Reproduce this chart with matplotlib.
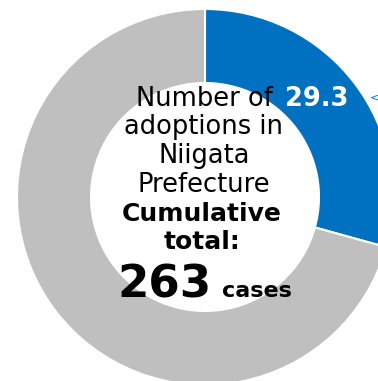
import matplotlib.pyplot as plt

# 採用件数の割合（新潟県）
labels = ["Niigata", "Other"]
shares = [29.3, 70.7]
colors = ["#0070C0", "#BFBFBF"]
total_cases = 263
share_label = "29.3"

center_lines = ["Number of", "adoptions in", "Niigata", "Prefecture"]
bold_lines = ["Cumulative", "total:"]

W, H = 378, 381

fig = plt.figure(figsize=(W / 100, H / 100), dpi=100)
ax = fig.add_axes([0, 0, 1, 1])

# donut
ax.pie(shares, colors=colors, startangle=90, counterclock=False,
       center=(205, H - 197), radius=188,
       wedgeprops=dict(width=74, edgecolor="white", linewidth=1.5))

ax.set_xlim(0, W)
ax.set_ylim(0, H)
ax.set_aspect("equal")
ax.axis("off")

# 中央のテキスト
base = [106, 134, 163, 192]
for txt, y in zip(center_lines, base):
    ax.text(204, H - y, txt, ha="center", va="baseline",
            fontsize=18.5, color="black")
for txt, y in zip(bold_lines, [221, 249]):
    ax.text(202, H - y, txt, ha="center", va="baseline",
            fontsize=18, fontweight="bold", color="black")

ax.text(117, H - 297, str(total_cases), ha="left", va="baseline",
        fontsize=32.5, fontweight="bold", color="black")
ax.text(222, H - 297, "cases", ha="left", va="baseline",
        fontsize=16, fontweight="bold", color="black")

# 割合ラベル
ax.text(317, H - 106, share_label, ha="center", va="baseline",
        fontsize=18.5, fontweight="bold", color="white")
ax.text(370, H - 100, "<", ha="left", va="baseline",
        fontsize=8, color="#0070C0")

fig.savefig("out.png", dpi=100)
plt.close()
